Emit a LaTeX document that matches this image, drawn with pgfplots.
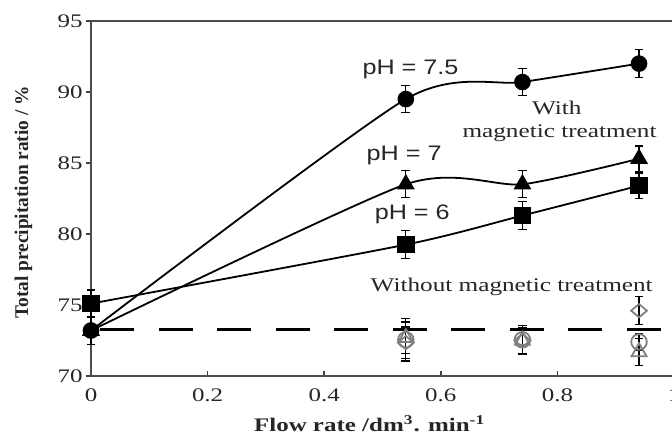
\documentclass[border=0pt]{standalone}
\usepackage{fontspec}
\setmainfont{Liberation Serif}
\newfontfamily\widefont[FakeStretch=1.3]{Liberation Serif}
\newfontfamily\widesans[FakeStretch=1.2]{Liberation Sans}
\usepackage{pgfplots}
\usepackage{pgfplotstable}
\pgfplotsset{compat=1.18}

% With magnetic treatment
\pgfplotstableread{
x    y     e
0    73.2  1.00
0.54 89.5  0.95
0.74 90.7  0.97
0.94 92.0  1.00
}\phSevenFive
\pgfplotstableread{
x    y     e
0    73.2  0.50
0.54 83.5  0.95
0.74 83.5  0.95
0.94 85.3  0.90
}\phSeven
\pgfplotstableread{
x    y     e
0    75.1  0.95
0.54 79.25 1.00
0.74 81.3  0.97
0.94 83.4  0.90
}\phSix
% Without magnetic treatment
\pgfplotstableread{
x    y     e
0.54 72.55 1.50
0.74 72.55 1.00
0.94 72.4  0.60
}\noSevenFive
\pgfplotstableread{
x    y     e
0.54 72.7  1.10
0.74 72.5  0.90
0.94 71.7  0.95
}\noSeven
\pgfplotstableread{
x    y     e
0.54 72.35 1.10
0.74 72.5  0.90
0.94 74.6  1.00
}\noSix

\pgfplotsset{
  ebars/.style={
    error bars/.cd, y dir=both, y explicit,
    error bar style={black, line width=0.6pt, solid},
    error mark=|,
    error mark options={black, mark size=2.2pt, line width=0.6pt, solid},
  },
}

\begin{document}
\begin{tikzpicture}
\begin{axis}[
  at={(0,0)}, anchor=south west,
  scale only axis, width=291.5pt, height=177.5pt,
  xmin=0, xmax=1, ymin=70, ymax=95,
  clip=false,
  xtick={0,0.2,0.4,0.6,0.8,1},
  xticklabels={0,0.2,0.4,0.6,0.8,1},
  ytick={70,75,80,85,90,95},
  yticklabels={70,75,80,85,90,95},
  xtick pos=left, ytick pos=left,
  tick align=inside, major tick length=2.5pt,
  y tick style={xshift=-2.5pt},
  tick style={black!75, line width=0.8pt},
  axis line style={black!70, line width=1pt},
  tick label style={font=\widefont\fontsize{9.6}{11}\selectfont, text=black!85},
  xticklabel style={anchor=north, inner sep=0pt, yshift=-6pt},
  yticklabel style={anchor=east, inner sep=0pt, xshift=-4pt},
  xlabel={\widefont\bfseries Flow rate /dm\textsuperscript{3}. min\textsuperscript{-1}},
  xlabel style={at={(axis description cs:0.478,-0.157)}, anchor=base,
    font=\fontsize{9.6}{11}\selectfont, text=black!85},
  ylabel={\bfseries Total precipitation ratio / \%},
  ylabel style={at={(axis description cs:-0.116,0.489)}, anchor=center,
    font=\fontsize{9.7}{11}\selectfont, text=black!85},
]

% reference level without magnetic treatment
\addplot[black, line width=1.5pt, dash pattern=on 17pt off 12.25pt]
  coordinates {(0.016,73.3) (1,73.3)};

% untreated samples
\addplot[only marks, mark=o, mark size=3.9pt,
  mark options={draw=gray, line width=0.9pt}, ebars]
  table[x=x, y=y, y error=e] {\noSevenFive};
\addplot[only marks, mark=triangle, mark size=4.3pt,
  mark options={draw=gray, line width=0.9pt}, ebars]
  table[x=x, y=y, y error=e] {\noSeven};
\addplot[only marks, mark=diamond, mark size=3.3pt,
  mark options={draw=gray, line width=0.9pt, xscale=1.6}, ebars]
  table[x=x, y=y, y error=e] {\noSix};

% magnetically treated samples
\addplot[black, line width=0.9pt, smooth, tension=0.4,
  mark=*, mark size=3.7pt, mark options={solid, fill=black}, ebars]
  table[x=x, y=y, y error=e] {\phSevenFive};
\addplot[black, line width=0.9pt, smooth, tension=0.4,
  mark=triangle*, mark size=4.3pt, mark options={solid, fill=black}, ebars]
  table[x=x, y=y, y error=e] {\phSeven};
\addplot[black, line width=0.9pt, smooth, tension=0.4,
  mark=square*, mark size=3.9pt, mark options={solid, fill=black}, ebars]
  table[x=x, y=y, y error=e] {\phSix};

% annotations
\begin{scope}[every node/.style={inner sep=0pt, text=black!85}]
\node[font=\widesans\fontsize{10.5}{12}\selectfont] at (axis cs:0.548,91.62) {pH = 7.5};
\node[font=\widesans\fontsize{10.5}{12}\selectfont] at (axis cs:0.537,85.5) {pH = 7};
\node[font=\widesans\fontsize{10.5}{12}\selectfont] at (axis cs:0.551,81.4) {pH = 6};
\node[font=\widefont\fontsize{9.7}{11}\selectfont] at (axis cs:0.799,88.85) {With};
\node[font=\widefont\fontsize{9.7}{11}\selectfont] at (axis cs:0.8036,87.09) {magnetic treatment};
\node[font=\widefont\fontsize{9.7}{11}\selectfont] at (axis cs:0.7216,76.3) {Without magnetic treatment};
\end{scope}
\end{axis}
\pgfresetboundingbox
\useasboundingbox (-45.5pt,-30.5pt) rectangle (290.5pt,188pt);
\end{tikzpicture}
\end{document}
